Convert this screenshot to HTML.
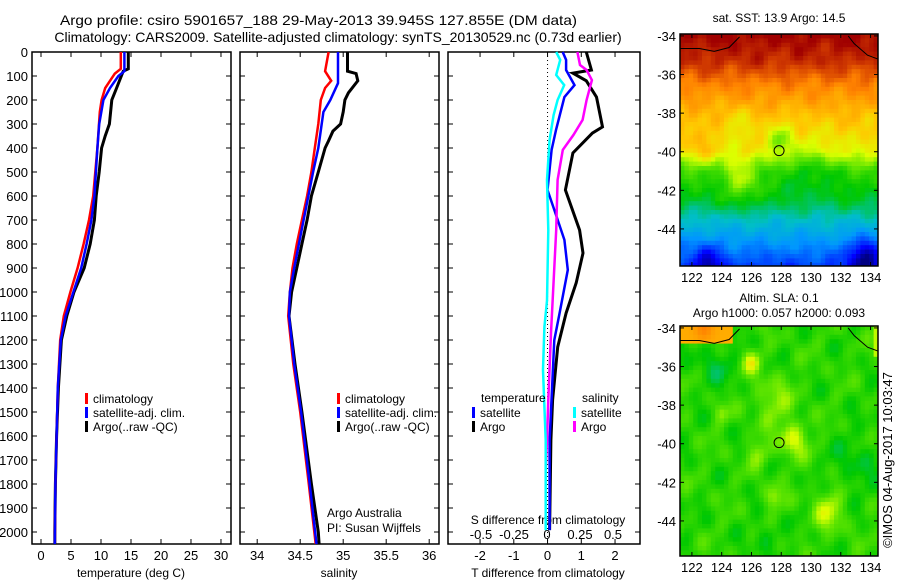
<!DOCTYPE html>
<html><head><meta charset="utf-8"><style>
body{margin:0;background:#fff;}
svg{display:block;font-family:"Liberation Sans",sans-serif;}
</style></head><body>
<svg id="c" width="900" height="580" viewBox="0 0 900 580" xmlns="http://www.w3.org/2000/svg">
<text x="60" y="25" font-size="14" text-anchor="start" textLength="517" lengthAdjust="spacingAndGlyphs">Argo profile: csiro 5901657_188 29-May-2013 39.945S 127.855E (DM data)</text>
<text x="338" y="42" font-size="14" text-anchor="middle">Climatology: CARS2009. Satellite-adjusted climatology: synTS_20130529.nc (0.73d earlier)</text>
<g id="g"></g>
</svg>
<script>
// ---- temperature profile data (depth m, deg C)
const tClimDepth=[0,70,90,150,200,250,400,600,700,800,900,1000,1100,1200,1400,1600,1800,2050];
const tClimVal=[13.3,13.3,12.3,10.7,10.1,9.8,9.4,8.7,8.0,7.1,6.1,4.9,3.8,3.2,2.8,2.6,2.4,2.3];
const tSatDepth=[0,80,100,150,200,300,400,600,700,800,900,1000,1100,1200,1400,1600,1800,2050];
const tSatVal=[13.9,13.9,12.9,11.5,10.4,9.7,9.4,8.9,8.4,7.6,6.7,5.4,4.1,3.3,2.8,2.6,2.4,2.3];
const tArgoDepth=[0,70,80,150,200,300,350,400,500,600,700,800,900,1000,1100,1200,1400,1600,1800,2000,2050];
const tArgoVal=[14.55,14.55,13.7,12.6,11.8,11.4,10.7,10.1,9.7,9.2,8.9,8.2,7.2,5.5,4.3,3.4,2.9,2.6,2.4,2.3,2.3];
// ---- salinity profile data
const sClimDepth=[0,80,120,150,200,300,400,500,600,700,800,900,1000,1100,1300,1500,1800,2050];
const sClimVal=[34.83,34.79,34.86,34.79,34.74,34.71,34.67,34.63,34.58,34.52,34.46,34.41,34.38,34.36,34.42,34.50,34.60,34.68];
const sSatDepth=[0,80,130,200,250,400,500,700,900,1000,1100,1300,1500,1800,2050];
const sSatVal=[34.94,34.94,34.94,34.85,34.77,34.71,34.65,34.54,34.43,34.38,34.37,34.43,34.51,34.61,34.69];
const sArgoDepth=[0,80,90,120,170,200,250,300,330,370,400,500,600,700,800,900,1000,1100,1300,1500,1800,2000,2050];
const sArgoVal=[35.05,35.05,35.15,35.17,35.06,35.02,35.0,34.97,34.88,34.83,34.79,34.71,34.63,34.58,34.52,34.46,34.40,34.37,34.44,34.52,34.63,34.71,34.72];
// ---- differences from climatology
const dtArgoDepth=[0,75,88,120,188,312,338,421,575,742,838,962,1088,1229,1450,1617,1992];
const dtArgoVal=[1.15,1.3,0.75,1.15,1.45,1.63,1.33,0.75,0.53,0.95,1.05,0.85,0.55,0.3,0.15,0.1,0.06];
const dtSatDepth=[0,33,75,138,188,325,408,575,658,783,908,1092,1200,1620,1992];
const dtSatVal=[0.45,0.55,0.55,0.8,0.5,0.25,0.12,0.0,0.2,0.5,0.6,0.35,0.2,0.06,0.06];
const dsArgoDepth=[0,54,75,117,200,283,346,408,533,742,1171,1450,1617,1742];
const dsArgoVal=[0.23,0.25,0.3,0.34,0.3,0.27,0.2,0.12,0.08,0.07,0.03,0.01,0.0,-0.01];
const dsSatDepth=[0,33,96,138,200,263,366,533,742,1036,1146,1325,1617,1992];
const dsSatVal=[0.07,0.1,0.07,0.13,0.08,0.05,0.02,0.0,0.01,0.0,-0.02,-0.03,-0.01,-0.01];
// ---- tick labels
const depthTicks=[0,100,200,300,400,500,600,700,800,900,1000,1100,1200,1300,1400,1500,1600,1700,1800,1900,2000];
const tTicks=[0,5,10,15,20,25,30];
const sTicks=[34,34.5,35,35.5,36];
const dtTicks=[-2,-1,0,1,2];
const dsTicks=[-0.5,-0.25,0,0.25,0.5];
const lonTicks=[122,124,126,128,130,132,134];
const latTicks=[-34,-36,-38,-40,-42,-44];
const argoLon=127.855, argoLat=-39.945;

const NS="http://www.w3.org/2000/svg";
const G=document.getElementById('g');
function mk(tag,attrs,parent){const e=document.createElementNS(NS,tag);for(const k in attrs)e.setAttribute(k,attrs[k]);(parent||G).appendChild(e);return e;}
function txt(x,y,s,size,anchor,parent){const e=mk('text',{x:x,y:y,'font-size':size,'text-anchor':anchor||'middle'},parent);e.textContent=s;return e;}

const yTop=52,yBot=544;
const yD=d=>yTop+d*0.24;
function panel(name,x0,x1,xmin,xmax){
  const xs=v=>x0+(v-xmin)/(xmax-xmin)*(x1-x0);
  const g=mk('g',{});
  
  
  const r=mk('rect',{x:x0,y:yTop,width:x1-x0,height:yBot-yTop,fill:'none',stroke:'#000','stroke-width':1.5},g);
  
  
  depthTicks.forEach(d=>{mk('line',{x1:x0,x2:x0+5,y1:yD(d),y2:yD(d),stroke:'#000'},g);mk('line',{x1:x1-5,x2:x1,y1:yD(d),y2:yD(d),stroke:'#000'},g);});
  return {xs,g};
}
function line(p,depth,vals,color,name,w){
  const pts=depth.map((d,i)=>p.xs(vals[i]).toFixed(1)+','+yD(d).toFixed(1)).join(' ');
  const e=mk('polyline',{points:pts,fill:'none',stroke:color,'stroke-width':w||2.5},p.g);
  
  
}
function legend(x,y,color,label,p){
  mk('rect',{x:x,y:y-9,width:3,height:11,fill:color},p.g);
  const t=txt(x+8,y+1,label,12,'start',p.g);
  
  
}

// Panel 1 temperature
const p1=panel('temperature-panel',32,231,-1.5,31.67);
depthTicks.forEach(d=>{txt(28,yD(d)+5,String(d),13,'end',p1.g);});
tTicks.forEach(v=>{const x=p1.xs(v);mk('line',{x1:x,x2:x,y1:yTop,y2:yTop+5,stroke:'#000'},p1.g);mk('line',{x1:x,x2:x,y1:yBot-5,y2:yBot,stroke:'#000'},p1.g);txt(x,560,String(v),13,'middle',p1.g);});
txt(131,577,'temperature (deg C)',12,'middle',p1.g);
line(p1,tArgoDepth,tArgoVal,'#000','argo-temperature-line',3);
line(p1,tClimDepth,tClimVal,'#f00','clim-temperature-line');
line(p1,tSatDepth,tSatVal,'#00f','sat-temperature-line');
legend(85,402,'#f00','climatology',p1);legend(85,416,'#00f','satellite-adj. clim.',p1);legend(85,430,'#000','Argo(..raw -QC)',p1);

// Panel 2 salinity
const p2=panel('salinity-panel',240,439,33.8,36.114);
sTicks.forEach(v=>{const x=p2.xs(v);mk('line',{x1:x,x2:x,y1:yTop,y2:yTop+5,stroke:'#000'},p2.g);mk('line',{x1:x,x2:x,y1:yBot-5,y2:yBot,stroke:'#000'},p2.g);txt(x,560,String(v),13,'middle',p2.g);});
txt(339,577,'salinity',12,'middle',p2.g);
line(p2,sArgoDepth,sArgoVal,'#000','argo-salinity-line',3);
line(p2,sClimDepth,sClimVal,'#f00','clim-salinity-line');
line(p2,sSatDepth,sSatVal,'#00f','sat-salinity-line');
legend(337,402,'#f00','climatology',p2);legend(337,416,'#00f','satellite-adj. clim.',p2);legend(337,430,'#000','Argo(..raw -QC)',p2);
txt(327,517,'Argo Australia',12,'start',p2.g);txt(327,532,'PI: Susan Wijffels',12,'start',p2.g);

// Panel 3 differences
const p3=panel('difference-panel',448,640,-2.95,2.74);
const p3s={xs:v=>547+v*132,g:p3.g};
mk('line',{x1:p3.xs(0),x2:p3.xs(0),y1:yTop,y2:yBot,stroke:'#000','stroke-dasharray':'1,3'},p3.g);
dtTicks.forEach(v=>{const x=p3.xs(v);mk('line',{x1:x,x2:x,y1:yTop,y2:yTop+5,stroke:'#000'},p3.g);mk('line',{x1:x,x2:x,y1:yBot-5,y2:yBot,stroke:'#000'},p3.g);txt(x,560,String(v),13,'middle',p3.g);});
dsTicks.forEach(v=>{txt(p3s.xs(v),539,String(v),13,'middle',p3.g);});
txt(548,524,'S difference from climatology',12,'middle',p3.g);
txt(548,577,'T difference from climatology',12,'middle',p3.g);
line(p3,dtArgoDepth,dtArgoVal,'#000','argo-t-diff-line',3);
line(p3,dtSatDepth,dtSatVal,'#00f','sat-t-diff-line');
line(p3s,dsArgoDepth,dsArgoVal,'#f0f','argo-s-diff-line');
line(p3s,dsSatDepth,dsSatVal,'#0ff','sat-s-diff-line');
txt(481,402,'temperature',12,'start',p3.g);txt(582,402,'salinity',12,'start',p3.g);
legend(472,416,'#00f','satellite',p3);legend(472,430,'#000','Argo',p3);
legend(573,416,'#0ff','satellite',p3);legend(573,430,'#f0f','Argo',p3);

// ---- maps
const cmapStops=[[0,[0,0,130]],[0.12,[0,0,255]],[0.28,[0,150,255]],[0.38,[0,190,200]],[0.5,[0,200,0]],[0.6,[100,230,0]],[0.68,[220,255,0]],[0.76,[255,200,0]],[0.86,[255,130,0]],[0.93,[210,60,0]],[1,[160,0,0]]];
function cmap(t){t=Math.max(0,Math.min(1,t));for(let i=1;i<cmapStops.length;i++){const a=cmapStops[i-1],b=cmapStops[i];if(t<=b[0]){const f=(t-a[0])/(b[0]-a[0]);return `rgb(${a[1].map((c,k)=>Math.round(c+(b[1][k]-c)*f)).join(',')})`;}}return 'rgb(160,0,0)';}
function map(name,y0,y1,field){
  const x0=680,x1=878,lon0=121.2,lon1=134.5,lat0=-33.9;
  const lx=l=>x0+(l-lon0)/(lon1-lon0)*(x1-x0);
  const ly=l=>y0+(lat0-l)*19.3;
  const g=mk('g',{});
  
  
  const cs=4.4;
  for(let y=y0;y<y1;y+=cs)for(let x=x0;x<x1;x+=cs){
    const lon=lon0+(x+cs/2-x0)/(x1-x0)*(lon1-lon0),lat=lat0-(y+cs/2-y0)/19.3;
    mk('rect',{x:x.toFixed(1),y:y.toFixed(1),width:(Math.min(cs,x1-x)+0.5).toFixed(1),height:(Math.min(cs,y1-y)+0.5).toFixed(1),fill:cmap(field(lon,lat))},g);
  }
  mk('polyline',{points:`${x0},${ly(-34.65)} ${lx(122.5)},${ly(-34.65)} ${lx(123.5)},${ly(-34.8)} ${lx(124.5)},${ly(-34.6)} ${lx(125.2)},${ly(-34.05)}`,fill:'none',stroke:'#000'},g);
  mk('polyline',{points:`${lx(132.5)},${ly(-34)} ${lx(132.9)},${ly(-34.4)} ${lx(133.8)},${ly(-35)} ${x1},${ly(-35.2)}`,fill:'none',stroke:'#000'},g);
  mk('rect',{x:x0,y:y0,width:x1-x0,height:y1-y0,fill:'none',stroke:'#000','stroke-width':1.5},g);
  lonTicks.forEach(v=>{const x=lx(v);mk('line',{x1:x,x2:x,y1:y0,y2:y0+4,stroke:'#000'},g);mk('line',{x1:x,x2:x,y1:y1-4,y2:y1,stroke:'#000'},g);txt(x,y1+16,String(v),13,'middle',g);});
  latTicks.forEach(v=>{const y=ly(v);mk('line',{x1:x0,x2:x0+4,y1:y,y2:y,stroke:'#000'},g);mk('line',{x1:x1-4,x2:x1,y1:y,y2:y,stroke:'#000'},g);txt(676,y+5,String(v),13,'end',g);});
  const c=mk('circle',{cx:lx(argoLon),cy:ly(argoLat),r:5,fill:'none',stroke:'#000'},g);
  
  
}
const gb=(lon,lat,cx,cy,r)=>Math.exp(-((lon-cx)**2+(lat-cy)**2)/(r*r));
const wob=(lon,lat)=>0.5*Math.sin(lon*1.9+lat*0.7)*Math.cos(lat*2.3-lon*0.4)+0.5*Math.sin(lon*3.7-lat*1.3)*Math.sin(lat*3.1+lon*0.9);
const sstLat=[-33.9,-35.3,-36.5,-38,-40,-41,-42.5,-43.5,-45,-46];
const sstT=[1.0,0.95,0.86,0.78,0.70,0.55,0.48,0.38,0.26,0.18];
function interp(lat){for(let i=1;i<sstLat.length;i++){if(lat>=sstLat[i]){const f=(lat-sstLat[i-1])/(sstLat[i]-sstLat[i-1]);return sstT[i-1]+(sstT[i]-sstT[i-1])*f;}}return sstT[sstT.length-1];}
map('sst-map',34,266,(lon,lat)=>{
  let t=interp(lat);
  t+=0.04*wob(lon,lat);
  t+=0.12*gb(lon,lat,125.3,-41.5,1.1)-0.1*gb(lon,lat,128,-39.3,0.8)+0.06*gb(lon,lat,122.5,-39.8,1.2)-0.05*gb(lon,lat,125,-38.5,0.8);
  t-=0.22*gb(lon,lat,133.6,-45.5,1.0)+0.14*gb(lon,lat,123,-45.8,1.0);
  t-=0.05*gb(lon,lat,130,-40.8,1.5);
  return t;
});
map('sla-map',326,556,(lon,lat)=>{
  let t=0.54+0.06*wob(lon*0.8,lat*0.8);
  t+=0.14*gb(lon,lat,128.8,-39.8,0.9)+0.13*gb(lon,lat,126,-35.8,0.6)+0.12*gb(lon,lat,131.2,-43.5,1.0)+0.1*gb(lon,lat,127.5,-42.8,0.6)+0.09*gb(lon,lat,127.5,-37.8,1.2)+0.08*gb(lon,lat,126.5,-40.5,0.7)+0.08*gb(lon,lat,124,-38.4,0.5);
  t-=0.06*gb(lon,lat,123.5,-36,1.2)+0.05*gb(lon,lat,133,-41,1.5)+0.05*gb(lon,lat,127,-44.8,0.8);
  if(lat>-34.8&&lon<124.6)t=0.8+0.06*gb(lon,lat,122.8,-34,0.6);
  if(lon>134.2&&lat>-35.5)t=0.66;
  return t;
});
txt(779,22,'sat. SST: 13.9 Argo: 14.5',12,'middle');
txt(779,302,'Altim. SLA: 0.1',12,'middle');
txt(779,317,'Argo h1000: 0.057 h2000: 0.093',12,'middle');
const ts=txt(0,0,'©IMOS 04-Aug-2017 10:03:47',13,'middle');
ts.setAttribute('transform','translate(892,460) rotate(-90)');


</script>
</body></html>
